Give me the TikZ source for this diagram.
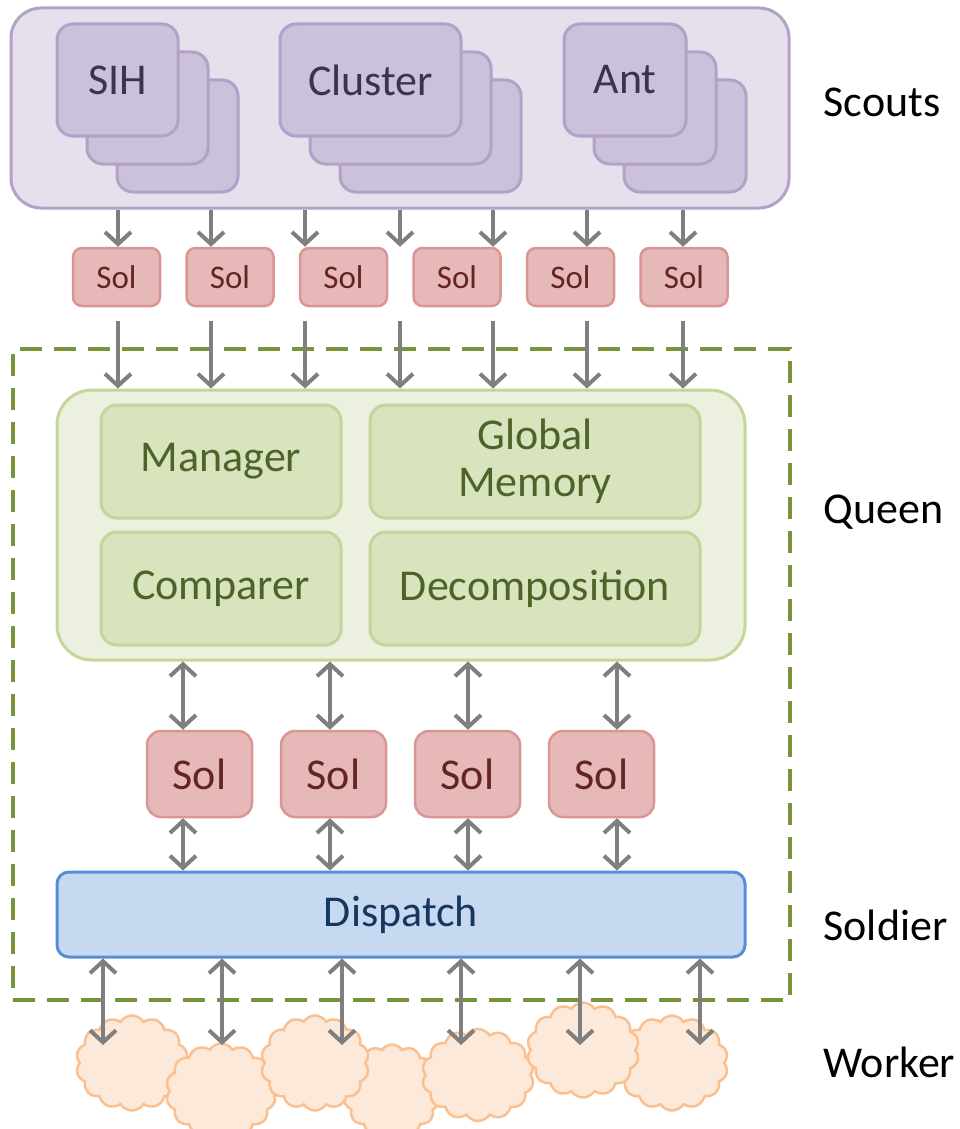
\documentclass[tikz,border=0pt]{standalone}
\usepackage{fontspec}
\setmainfont{Carlito}
\usetikzlibrary{arrows.meta,shapes.symbols}
\definecolor{scoutfill}{HTML}{E5E0EC}
\definecolor{scoutline}{HTML}{B3A2C7}
\definecolor{itemfill}{HTML}{CCC1DA}
\definecolor{itemtext}{HTML}{3F3151}
\definecolor{solfill}{HTML}{E6B9B8}
\definecolor{solline}{HTML}{D99694}
\definecolor{soltext}{HTML}{632523}
\definecolor{qfill}{HTML}{EBF1DE}
\definecolor{qline}{HTML}{C3D69B}
\definecolor{qinner}{HTML}{D7E4BD}
\definecolor{qtext}{HTML}{4F6228}
\definecolor{dashgreen}{HTML}{77933C}
\definecolor{dfill}{HTML}{C6D9F1}
\definecolor{dline}{HTML}{558ED5}
\definecolor{dtext}{HTML}{17365D}
\definecolor{cfill}{HTML}{FDE9D9}
\definecolor{cline}{HTML}{FAC090}
\definecolor{arrowgray}{HTML}{7F7F7F}
\tikzset{
  big/.style={font=\fontsize{44}{47}\selectfont},
  scoutbox/.style={draw=scoutline, fill=scoutfill, line width=3pt, rounded corners=30pt, inner sep=0pt},
  itembox/.style={draw=scoutline, fill=itemfill, line width=3pt, rounded corners=16pt, inner sep=0pt, text=itemtext, big},
  smallsol/.style={draw=solline, fill=solfill, line width=2.5pt, rounded corners=9pt, inner sep=0pt, text=soltext, font=\fontsize{33}{36}\selectfont, minimum width=87pt, minimum height=58pt},
  bigsol/.style={draw=solline, fill=solfill, line width=2.5pt, rounded corners=14pt, inner sep=0pt, text=soltext, big, minimum width=105pt, minimum height=86pt},
  queenbox/.style={draw=qline, fill=qfill, line width=3pt, rounded corners=35pt, inner sep=0pt},
  qinnerbox/.style={draw=qline, fill=qinner, line width=3pt, rounded corners=16pt, inner sep=0pt, text=qtext, big, align=center},
  dispbox/.style={draw=dline, fill=dfill, line width=3pt, rounded corners=12pt, inner sep=0pt, text=dtext, big},
  frame/.style={draw=dashgreen, line width=4pt, dash pattern=on 22pt off 12pt, inner sep=0pt},
  cloudnode/.style={cloud, cloud puffs=14, cloud puff arc=115, cloud ignores aspect, draw=cline, fill=cfill, line width=2.5pt, inner sep=0pt},
  layer/.style={big, anchor=west, text=black},
  arr/.style={draw=arrowgray, line width=4pt, -{Straight Barb[length=12pt,width=26pt,line width=4pt]}},
  darr/.style={draw=arrowgray, line width=4pt, {Straight Barb[length=12pt,width=26pt,line width=4pt]}-{Straight Barb[length=12pt,width=26pt,line width=4pt]}},
}
\begin{document}
\begin{tikzpicture}[x=1pt,y=-1pt]
\useasboundingbox (0,0) rectangle (960,1129);
% dashed frame
\node[frame, minimum width=777pt, minimum height=651pt] (frame) at (401.5,674.5) {};
% scouts
\node[scoutbox, minimum width=778pt, minimum height=200pt] (scouts) at (400,108) {};
\node[itembox, minimum width=121pt, minimum height=112pt] (sih3) at (177.5,136) {};
\node[itembox, minimum width=121pt, minimum height=112pt] (sih2) at (147.5,108) {};
\node[itembox, minimum width=121pt, minimum height=112pt] (sih1) at (117.5,80) {SIH};
\node[itembox, minimum width=181pt, minimum height=112pt] (cl3) at (430.5,136) {};
\node[itembox, minimum width=181pt, minimum height=112pt] (cl2) at (400.5,108) {};
\node[itembox, minimum width=181pt, minimum height=112pt] (cl1) at (370.5,80) {Cluster};
\node[itembox, minimum width=122pt, minimum height=112pt] (ant3) at (685,136) {};
\node[itembox, minimum width=122pt, minimum height=112pt] (ant2) at (655,108) {};
\node[itembox, minimum width=122pt, minimum height=112pt] (ant1) at (625,80) {Ant};
% small sols
\node[smallsol] (s1) at (116.5,277) {Sol};
\node[smallsol] (s2) at (230,277) {Sol};
\node[smallsol] (s3) at (343.5,277) {Sol};
\node[smallsol] (s4) at (457,277) {Sol};
\node[smallsol] (s5) at (570.5,277) {Sol};
\node[smallsol] (s6) at (684,277) {Sol};
% queen
\node[queenbox, minimum width=688pt, minimum height=270pt] (queen) at (401,525) {};
\node[qinnerbox, minimum width=240pt, minimum height=113pt] (manager) at (221,461.5) {Manager};
\node[qinnerbox, minimum width=330pt, minimum height=113pt] (memory) at (535,461.5) {Global\\Memory};
\node[qinnerbox, minimum width=240pt, minimum height=113pt] (comparer) at (221,588.5) {Comparer};
\node[qinnerbox, minimum width=330pt, minimum height=113pt] (decomp) at (535,588.5) {Decomposition};
% middle sols
\node[bigsol] (m1) at (199.5,774) {Sol};
\node[bigsol] (m2) at (333.5,774) {Sol};
\node[bigsol] (m3) at (467.5,774) {Sol};
\node[bigsol] (m4) at (601.5,774) {Sol};
% dispatch
\node[dispbox, minimum width=688pt, minimum height=85pt] (dispatch) at (401,914.5) {Dispatch};
% clouds
\node[cloudnode, minimum width=112pt, minimum height=95pt] (w1) at (132,1063) {};
\node[cloudnode, minimum width=98pt, minimum height=93pt] (w4) at (392,1091) {};
\node[cloudnode, minimum width=110pt, minimum height=95pt] (w2) at (221,1091) {};
\node[cloudnode, minimum width=108pt, minimum height=95pt] (w3) at (315,1063) {};
\node[cloudnode, minimum width=112pt, minimum height=92pt] (w5) at (478,1075) {};
\node[cloudnode, minimum width=112pt, minimum height=95pt] (w7) at (672,1063) {};
\node[cloudnode, minimum width=112pt, minimum height=95pt] (w6) at (583,1050) {};
% layer labels
\node[layer] (lscouts) at (820,102) {Scouts};
\node[layer] (lqueen) at (820,512) {Queen};
\node[layer] (lsoldier) at (820,925) {Soldier};
\node[layer] (lworker) at (820,1062) {Worker};
% arrow columns
\foreach \i/\x in {1/118,2/211,3/305,4/400,5/493,6/587,7/683} {
  \coordinate (t\i) at (\x,0);
}
\foreach \i/\x in {1/183,2/330,3/468,4/617} {
  \coordinate (c\i) at (\x,0);
}
\foreach \i/\x in {1/103,2/222,3/342,4/461,5/580,6/700} {
  \coordinate (b\i) at (\x,0);
  \coordinate (e\i) at (\x,1045);
}
% scouts -> sol
\foreach \i in {1,...,7} {
  \draw[arr] (scouts.south -| t\i) -- (s1.north -| t\i);
  \draw[arr] ([yshift=-14pt]s1.south -| t\i) -- (queen.north -| t\i);
}
% queen <-> sol <-> dispatch
\foreach \i in {1,...,4} {
  \draw[darr] (queen.south -| c\i) -- (m1.north -| c\i);
  \draw[darr] (m1.south -| c\i) -- (dispatch.north -| c\i);
}
% dispatch <-> workers
\foreach \i in {1,...,6} {
  \draw[darr] (dispatch.south -| b\i) -- (e\i);
}
\end{tikzpicture}
\end{document}
